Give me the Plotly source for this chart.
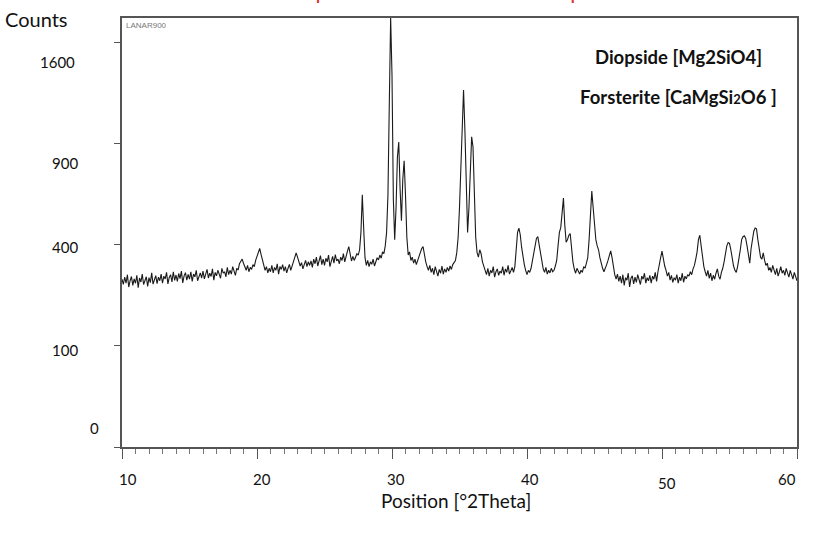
import numpy as np
import plotly.graph_objects as go

# ---- data ----
scan_start = 10.0   # deg 2theta
scan_step = 0.1     # deg 2theta
counts = [
    275, 258, 282, 262, 290, 250, 270, 284, 255, 276,   # 10
    262, 288, 248, 279, 266, 292, 258, 272, 283, 252,   # 11
    280, 264, 296, 259, 275, 287, 261, 282, 270, 292,   # 12
    262, 285, 276, 298, 260, 281, 290, 266, 300, 271,   # 13
    289, 268, 294, 277, 302, 263, 286, 297, 272, 291,   # 14
    275, 300, 268, 292, 283, 305, 270, 288, 296, 279,   # 15
    302, 276, 291, 308, 279, 295, 284, 310, 272, 298,   # 16
    286, 305, 292, 278, 312, 295, 300, 283, 315, 290,   # 17
    305, 292, 318, 300, 288, 312, 306, 328, 338, 345,   # 18
    330, 318, 305, 322, 300, 315, 308, 325, 318, 340,   # 19
    355, 372, 385, 362, 338, 320, 305, 318, 296, 312,   # 20
    300, 322, 296, 315, 305, 328, 292, 318, 308, 325,   # 21
    302, 318, 296, 312, 326, 305, 320, 335, 350, 368,   # 22
    352, 338, 320, 332, 310, 325, 340, 318, 335, 322,   # 23
    338, 315, 345, 328, 352, 320, 340, 358, 325, 345,   # 24
    322, 348, 335, 360, 318, 342, 355, 330, 362, 338,   # 25
    345, 328, 352, 340, 365, 335, 358, 375, 392, 360,   # 26
    338, 355, 340, 352, 365, 360, 380, 450, 622, 470,   # 27
    350, 322, 340, 318, 335, 326, 345, 320, 338, 350,   # 28
    342, 360, 348, 372, 365, 395, 450, 620, 1150, 1800, # 29
    1350, 600, 420, 560, 820, 908, 650, 500, 700, 800,  # 30
    620, 430, 360, 372, 340, 352, 330, 345, 325, 342,   # 31
    355, 368, 385, 392, 360, 335, 318, 305, 322, 298,   # 32
    312, 290, 318, 300, 285, 308, 295, 320, 292, 310,   # 33
    298, 315, 302, 320, 308, 325, 335, 340, 370, 430,   # 34
    560, 780, 1050, 1245, 980, 680, 450, 560, 780, 940, # 35
    880, 600, 430, 370, 352, 380, 365, 335, 318, 305,   # 36
    290, 312, 285, 305, 296, 318, 282, 300, 310, 288,   # 37
    302, 295, 318, 288, 310, 298, 322, 292, 305, 315,   # 38
    298, 318, 380, 450, 468, 440, 390, 345, 325, 305,   # 39
    290, 305, 298, 312, 340, 375, 410, 425, 432, 400,   # 40
    368, 330, 310, 298, 315, 292, 305, 296, 312, 300,   # 41
    305, 320, 340, 395, 450, 470, 560, 605, 480, 410,   # 42
    420, 438, 445, 380, 335, 310, 295, 312, 300, 292,   # 43
    305, 298, 318, 312, 330, 350, 420, 560, 640, 560,   # 44
    470, 420, 395, 380, 350, 325, 312, 300, 310, 325,   # 45
    340, 362, 376, 350, 318, 290, 275, 292, 268, 285,   # 46
    262, 290, 255, 280, 272, 295, 250, 278, 286, 260,   # 47
    282, 265, 290, 270, 258, 285, 275, 295, 262, 280,   # 48
    270, 288, 262, 285, 275, 298, 268, 300, 320, 350,   # 49
    375, 345, 320, 305, 285, 298, 272, 288, 265, 280,   # 50
    272, 290, 262, 282, 270, 295, 265, 285, 276, 290,   # 51
    285, 300, 290, 310, 322, 345, 372, 420, 438, 395,   # 52
    350, 318, 300, 285, 305, 278, 295, 270, 288, 275,   # 53
    295, 310, 285, 275, 298, 312, 335, 365, 395, 408,   # 54
    405, 380, 345, 320, 305, 298, 318, 345, 380, 420,   # 55
    432, 436, 425, 395, 360, 330, 385, 420, 455, 468,   # 56
    465, 420, 380, 352, 345, 368, 340, 322, 330, 305,   # 57
    315, 298, 322, 305, 290, 312, 285, 300, 318, 295,   # 58
    305, 288, 312, 296, 282, 305, 290, 275, 298, 280,   # 59
    270,                                                 # 60
]

y_tick_values = [0, 100, 400, 900, 1600]
y_tick_labels = ["0", "100", "400", "900", "1600"]
x_tick_values = [10, 20, 30, 40, 50, 60]
x_tick_labels = ["10", "20", "30", "40", "50", "60"]

phase_labels = ["Diopside [Mg2SiO4]",
                "Forsterite [CaMgSi<span style='font-size:13px'>2</span>O6 ]"]
sample_name = "LANAR900"
title_text = "XRD pattern of LANAR900 sample"

# ---- build ----
counts_arr = np.array(counts, dtype=float)
two_theta = scan_start + scan_step * np.arange(len(counts_arr))
y_sqrt = np.sqrt(counts_arr)

FONT = "Lato, 'Open Sans', sans-serif"

fig = go.Figure()
fig.add_trace(go.Scatter(
    x=two_theta, y=y_sqrt, mode="lines",
    line=dict(color="#1a1a1a", width=1.1),
    customdata=counts_arr,
    hovertemplate="%{x:.1f}°: %{customdata} counts<extra></extra>",
    showlegend=False,
))

fig.update_layout(
    width=818, height=533,
    margin=dict(l=122, r=21, t=18, b=86),
    paper_bgcolor="white", plot_bgcolor="white",
    font=dict(family=FONT, color="#111"),
)
fig.update_xaxes(
    range=[10, 60], showline=True, linecolor="#555", linewidth=1.5, mirror=True,
    showgrid=False, zeroline=False, tickvals=x_tick_values, ticks="outside",
    ticklen=10, tickcolor="#555", showticklabels=False,
    minor=dict(dtick=1, ticks="outside", ticklen=5, tickcolor="#777"),
)
fig.update_yaxes(
    range=[0, 42.4], showline=True, linecolor="#555", linewidth=1.5, mirror=True,
    showgrid=False, zeroline=False, tickvals=list(np.sqrt(y_tick_values)),
    ticks="outside", ticklen=6, tickcolor="#555", showticklabels=False,
)

# y tick labels (as drawn in the reference, slightly offset from the ticks)
y_label_shift = [19, -4, -2, -20, -20]
y_label_xshift = [-21, -42, -42, -42, -45]
for v, t, ys, xs in zip(y_tick_values, y_tick_labels, y_label_shift, y_label_xshift):
    fig.add_annotation(x=0, xref="paper", y=np.sqrt(v), yref="y", text=t,
                       showarrow=False, xanchor="right", yanchor="middle",
                       xshift=xs, yshift=ys, font=dict(size=15, family=FONT))

x_label_xshift = [6, 5, 4, 3, 5, -10]
x_label_yshift = [-32, -32, -32, -32, -36, -32]
for v, t, xs, ys in zip(x_tick_values, x_tick_labels, x_label_xshift, x_label_yshift):
    fig.add_annotation(x=v, xref="x", y=0, yref="paper", text=t,
                       showarrow=False, xanchor="center", yanchor="middle",
                       xshift=xs, yshift=ys, font=dict(size=15, family=FONT))

fig.add_annotation(x=0, xref="paper", y=1, yref="paper", text="Counts",
                   showarrow=False, xanchor="right", yanchor="middle",
                   xshift=-52, yshift=-1, font=dict(size=20, family=FONT))
fig.add_annotation(x=0.495, xref="paper", y=0, yref="paper", text="Position [°2Theta]",
                   showarrow=False, xanchor="center", yanchor="middle",
                   yshift=-53, font=dict(size=19, family=FONT))
fig.add_annotation(x=0, xref="paper", y=1, yref="paper", text=sample_name,
                   showarrow=False, xanchor="left", yanchor="top",
                   xshift=2, yshift=-1, font=dict(size=8, family="Arial, Liberation Sans", color="#777"))
for i, lab in enumerate(phase_labels):
    fig.add_annotation(x=0.825, xref="paper", y=1, yref="paper", text="<b>" + lab + "</b>",
                       showarrow=False, xanchor="center", yanchor="middle",
                       yshift=-39 - 40 * i, font=dict(size=18.5, family=FONT, color="#111"))
fig.add_annotation(x=0.46, xref="paper", y=1, yref="paper", text=title_text,
                   showarrow=False, xanchor="center", yanchor="bottom",
                   yshift=12, font=dict(size=22, family=FONT, color="#e0302a"))

fig.write_html("out.html", config={"displayModeBar": False},
               post_script="document.body.style.margin='0';")
